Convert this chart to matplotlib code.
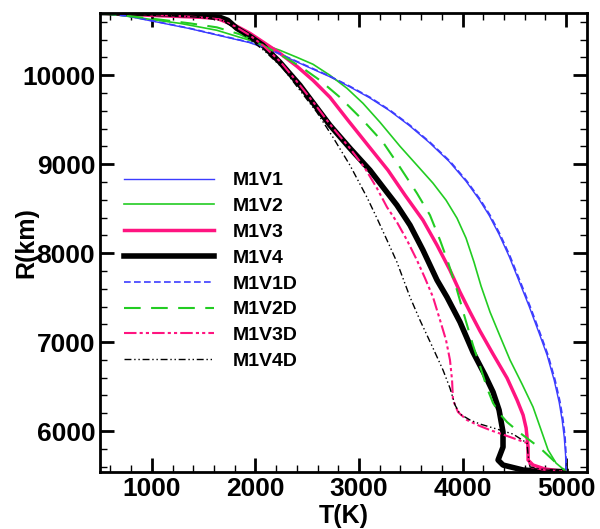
import matplotlib
matplotlib.use('Agg')
from matplotlib import pyplot as plt
from matplotlib.ticker import MultipleLocator

plt.rcParams['font.family'] = ['Liberation Sans', 'DejaVu Sans']
plt.rcParams['font.weight'] = 'bold'

# temperature T (K) and radius R (km)
t_m1v1d = [498, 787, 1077, 1367, 1657, 1947, 2140, 2333, 2527, 2720, 2913, 3106, 3300, 3493, 3686, 3879,
           4043, 4169, 4266, 4362, 4459, 4556, 4652, 4749, 4826, 4894, 4942, 4971, 4990, 5000, 5000]
r_m1v1d = [10700, 10663, 10596, 10528, 10449, 10371, 10292, 10191, 10090, 9989, 9876, 9753, 9607, 9438, 9247, 9034,
           8809, 8607, 8427, 8213, 7966, 7685, 7404, 7101, 6854, 6573, 6326, 6124, 5933, 5730, 5545]

t_m1v1 = [498, 780, 1070, 1360, 1650, 1940, 2132, 2325, 2518, 2712, 2905, 3098, 3292, 3485, 3678, 3870,
          4035, 4160, 4257, 4353, 4450, 4547, 4643, 4740, 4817, 4885, 4933, 4962, 4982, 4995, 5000]
r_m1v1 = [10700, 10660, 10594, 10526, 10447, 10368, 10290, 10190, 10088, 9987, 9874, 9750, 9605, 9436, 9245, 9032,
          8807, 8605, 8425, 8211, 7964, 7683, 7402, 7099, 6852, 6571, 6324, 6122, 5931, 5728, 5545]

t_m1v2 = [498, 787, 981, 1271, 1628, 1850, 2043, 2237, 2401, 2556, 2720, 2884, 3039, 3203, 3396, 3560,
          3715, 3841, 3947, 4034, 4111, 4179, 4266, 4362, 4459, 4575, 4681, 4759, 4826, 4903, 5000]
r_m1v2 = [10697, 10663, 10629, 10584, 10506, 10427, 10360, 10281, 10202, 10124, 10000, 9854, 9685, 9472, 9202, 8989,
          8787, 8596, 8393, 8169, 7899, 7630, 7337, 7067, 6798, 6528, 6270, 6011, 5787, 5640, 5545]

t_m1v3 = [498, 981, 1464, 1628, 1821, 1947, 2092, 2237, 2401, 2556, 2720, 2894, 3087, 3280, 3445, 3618,
          3754, 3879, 3976, 4073, 4169, 4295, 4430, 4527, 4585, 4614, 4633, 4633, 4681, 4797, 5000]
r_m1v3 = [10700, 10674, 10652, 10640, 10551, 10472, 10360, 10247, 10101, 9944, 9753, 9494, 9213, 8933, 8652, 8371,
          8090, 7809, 7562, 7337, 7124, 6865, 6596, 6348, 6180, 6034, 5820, 5674, 5618, 5573, 5545]

t_m1v4 = [498, 981, 1464, 1657, 1734, 1821, 1947, 2072, 2237, 2430, 2575, 2720, 2913, 3106, 3232, 3367,
          3493, 3618, 3754, 3850, 3976, 4101, 4217, 4295, 4353, 4391, 4391, 4343, 4391, 4585, 4797, 5000]
r_m1v4 = [10705, 10697, 10674, 10652, 10618, 10528, 10438, 10337, 10146, 9888, 9663, 9438, 9180, 8933, 8742, 8539,
          8315, 8034, 7697, 7506, 7225, 6888, 6629, 6438, 6236, 5989, 5820, 5674, 5618, 5562, 5545, 5545]

t_m1v2d = [498, 981, 1367, 1628, 1850, 2072, 2285, 2459, 2623, 2816, 3039, 3232, 3396, 3560, 3686, 3783,
           3860, 3947, 4024, 4101, 4169, 4237, 4295, 4362, 4430, 4556, 4749, 4894, 5000]
r_m1v2d = [10700, 10640, 10584, 10539, 10461, 10337, 10202, 10079, 9944, 9753, 9494, 9247, 8966, 8674, 8427, 8146,
           7899, 7584, 7270, 6966, 6730, 6483, 6315, 6191, 6101, 5978, 5809, 5652, 5545]

t_m1v3d = [498, 981, 1464, 1657, 1802, 1947, 2072, 2237, 2430, 2575, 2720, 2913, 3058, 3174, 3271, 3367,
           3464, 3560, 3638, 3715, 3783, 3841, 3879, 3899, 3908, 3957, 4043, 4169, 4266, 4459, 4623, 4633,
           4652, 4797, 5000]
r_m1v3d = [10705, 10685, 10652, 10629, 10551, 10449, 10337, 10157, 9888, 9674, 9449, 9180, 8955, 8730, 8517, 8348,
           8146, 7921, 7719, 7506, 7247, 7022, 6798, 6573, 6348, 6213, 6124, 6056, 6011, 5933, 5865, 5730,
           5596, 5562, 5545]

t_m1v4d = [498, 981, 1464, 1676, 1802, 1947, 2092, 2266, 2430, 2594, 2749, 2913, 3077, 3174, 3271, 3367,
           3493, 3589, 3715, 3812, 3879, 3928, 3976, 4073, 4169, 4333, 4488, 4623, 4633, 4652, 4797, 5000]
r_m1v4d = [10705, 10685, 10652, 10618, 10528, 10404, 10270, 10079, 9831, 9584, 9303, 8989, 8629, 8393, 8146, 7899,
           7506, 7247, 6933, 6685, 6483, 6292, 6191, 6124, 6079, 6022, 5966, 5865, 5730, 5596, 5562, 5545]

blue = '#3c3cff'
green = '#22cc22'
pink = '#ff1480'

fig = plt.figure(figsize=(6, 5.29), dpi=100)
ax = fig.add_axes([0.1667, 0.1078, 0.8113, 0.8676])

ax.plot(t_m1v1, r_m1v1, color=blue, lw=1, label='M1V1')
ax.plot(t_m1v2, r_m1v2, color=green, lw=1.2, label='M1V2')
ax.plot(t_m1v3, r_m1v3, color=pink, lw=2.5, label='M1V3')
ax.plot(t_m1v4, r_m1v4, color='black', lw=4, label='M1V4')
ax.plot(t_m1v1d, r_m1v1d, color=blue, lw=1.2, linestyle=(0, (4, 2)), label='M1V1D')
ax.plot(t_m1v2d, r_m1v2d, color=green, lw=1.5, linestyle=(0, (8, 5)), label='M1V2D')
ax.plot(t_m1v3d, r_m1v3d, color=pink, lw=1.5, linestyle=(0, (6, 1.5, 1.5, 1.5, 1.5, 1.5)), label='M1V3D')
ax.plot(t_m1v4d, r_m1v4d, color='black', lw=1, linestyle=(0, (5, 2, 1, 2, 1, 2)), label='M1V4D')

ax.set_xlim(500, 5200)
ax.set_ylim(5540, 10700)
ax.xaxis.set_major_locator(MultipleLocator(1000))
ax.xaxis.set_minor_locator(MultipleLocator(200))
ax.yaxis.set_major_locator(MultipleLocator(1000))
ax.yaxis.set_minor_locator(MultipleLocator(200))
ax.tick_params(which='both', direction='in', top=True, right=True, labelsize=19)
ax.tick_params(which='major', length=10, width=2)
ax.tick_params(which='minor', length=5, width=1)
for sp in ax.spines.values():
    sp.set_linewidth(2)

ax.set_xlabel('T(K)', fontsize=18, fontweight='bold', labelpad=2)
ax.set_ylabel('R(km)', fontsize=18, fontweight='bold', labelpad=-12)

ax.legend(loc='upper left', bbox_to_anchor=(0.05, 0.654), frameon=False,
          prop={'size': 14, 'weight': 'bold'}, handlelength=4.6,
          handletextpad=0.95, labelspacing=0.42, borderpad=0, borderaxespad=0)

fig.savefig('out.png', dpi=100)
